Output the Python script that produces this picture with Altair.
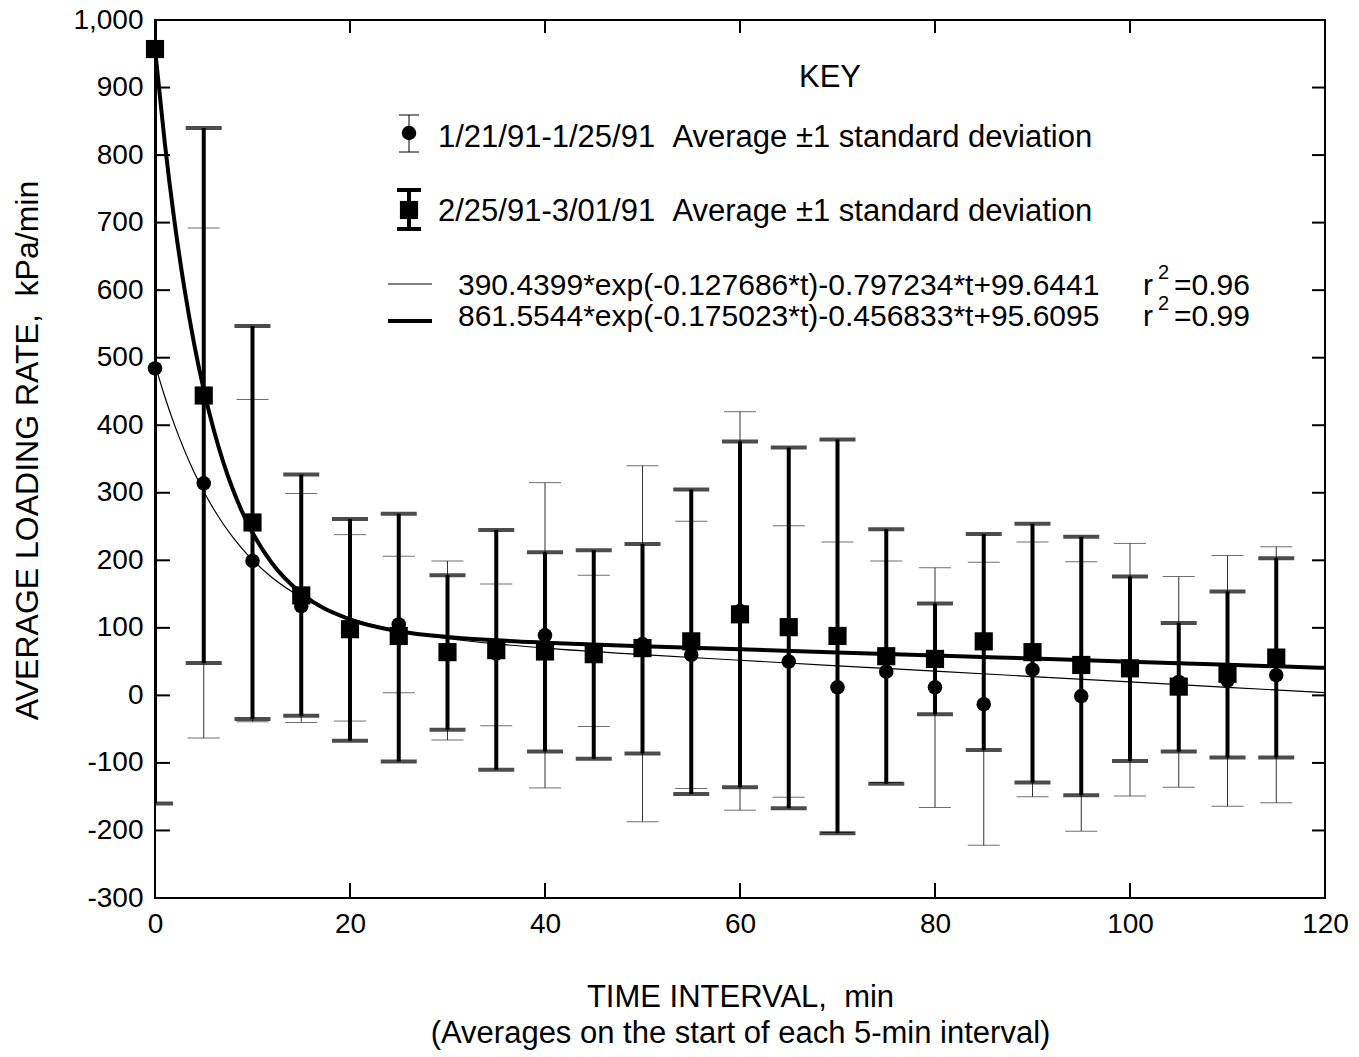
import altair as alt
import pandas as pd

# ---------------- data ----------------
t_min = [0, 5, 10, 15, 20, 25, 30, 35, 40, 45, 50, 55, 60, 65, 70, 75, 80, 85, 90, 95, 100, 105, 110, 115]

# 2/25/91-3/01/91 (squares, thick bars)
sq_mean = [957, 444, 256, 148, 98, 88, 64, 67, 65, 61, 70, 80, 120, 101, 88, 58, 54, 80, 64, 45, 40, 13, 32, 56]
sq_hi = [2074, 840, 547, 327, 261, 269, 178, 245, 212, 215, 224, 305, 376, 367, 379, 246, 136, 239, 254, 235, 176, 107, 154, 203]
sq_lo = [-160, 48, -35, -30, -67, -98, -51, -110, -83, -94, -86, -146, -136, -167, -204, -131, -28, -81, -129, -148, -97, -83, -92, -92]

# 1/21/91-1/25/91 (circles, thin bars)
ci_mean = [484, 314, 199, 132, 100, 105, 67, 62, 89, 66, 76, 60, 125, 50, 12, 35, 12, -13, 38, -1, 38, 20, 22, 30]
ci_hi = [None, 692, 438, 299, 238, 206, 199, 165, 315, 178, 340, 258, 420, 251, 227, 199, 189, 197, 227, 198, 225, 176, 207, 220]
ci_lo = [None, -63, -39, -40, -38, 4, -66, -45, -137, -46, -187, -138, -170, -151, -203, -129, -166, -222, -150, -201, -149, -136, -164, -159]

# fitted curves as drawn
curve_t = [0, 1, 2, 3, 4, 5, 6, 7, 8, 9, 10, 12, 15, 20, 25, 30, 35, 40, 50, 60, 70, 80, 90, 100, 110, 120]
thin_curve = [490.1, 442.5, 400.5, 363.5, 330.8, 301.9, 276.3, 253.8, 233.8, 216.2, 200.6, 174.5, 145.2,
              114.1, 95.7, 84.2, 76.2, 70.1, 60.4, 52.0, 43.8, 35.9, 27.9, 19.9, 12.0, 4.0]
thick_curve = [957.2, 818.4, 701.8, 603.9, 521.6, 452.5, 394.4, 345.5, 304.4, 269.8, 240.8, 195.6, 151.1,
               112.5, 95.0, 86.4, 81.5, 78.1, 72.9, 68.2, 63.6, 59.1, 54.5, 49.9, 45.4, 40.8]

x_ticks = [0, 20, 40, 60, 80, 100, 120]
y_ticks = [-300, -200, -100, 0, 100, 200, 300, 400, 500, 600, 700, 800, 900, 1000]

# ---------------- layout ----------------
W, H = 1170, 878
FONT = "Liberation Sans"
SP2 = " \u00a0"  # double space that survives SVG whitespace collapsing

xs = alt.Scale(domain=[0, 120], nice=False, zero=False)
ys = alt.Scale(domain=[-300, 1000], nice=False, zero=False)

x_axis = alt.Axis(values=x_ticks, ticks=False, domain=False, grid=False, labelFlush=False,
                  labelFontSize=28, labelPadding=12, labelColor="black", labelFont=FONT,
                  title=["TIME INTERVAL," + SP2 + "min", "(Averages on the start of each 5-min interval)"],
                  titleFontSize=31, titleFontWeight="normal", titleFont=FONT, titleColor="black",
                  titleX=585, titleY=84, titleAlign="center", titleBaseline="top", titleLineHeight=36)
y_axis = alt.Axis(values=y_ticks, ticks=False, domain=False, grid=False, labelFlush=False,
                  labelFontSize=28, labelPadding=12, labelColor="black", labelFont=FONT,
                  labelExpr="datum.value < 0 ? '-' + format(-datum.value, ',') : format(datum.value, ',')",
                  title="AVERAGE LOADING RATE," + SP2 + "kPa/min",
                  titleFontSize=32, titleFontWeight="normal", titleFont=FONT, titleColor="black",
                  titleX=-128, titleY=430, titleAngle=270, titleAlign="center", titleBaseline="middle")


def X(field):
    return alt.X(field, type="quantitative", scale=xs, axis=x_axis)


def Y(field):
    return alt.Y(field, type="quantitative", scale=ys, axis=y_axis)


pts = pd.DataFrame({"t": t_min, "sq": sq_mean, "sq_hi": sq_hi, "sq_lo": sq_lo,
                    "ci": ci_mean, "ci_hi": ci_hi, "ci_lo": ci_lo})
curves = pd.DataFrame({"t": curve_t, "thin": thin_curve, "thick": thick_curve})
xt = pd.DataFrame({"t": x_ticks})
yt = pd.DataFrame({"v": y_ticks})

layers = []

# inward ticks on all four sides
layers.append(alt.Chart(yt).mark_rule(color="black", strokeWidth=2).encode(
    y=Y("v"), x=alt.value(0), x2=alt.value(15)))
layers.append(alt.Chart(yt).mark_rule(color="black", strokeWidth=2).encode(
    y=Y("v"), x=alt.value(W - 13), x2=alt.value(W)))
layers.append(alt.Chart(xt).mark_rule(color="black", strokeWidth=2).encode(
    x=X("t"), y=alt.value(H - 15), y2=alt.value(H)))
layers.append(alt.Chart(xt).mark_rule(color="black", strokeWidth=2).encode(
    x=X("t"), y=alt.value(0), y2=alt.value(13)))

# thin series: error bars, curve, circles
ci_df = pts.dropna(subset=["ci_hi"])
layers.append(alt.Chart(ci_df).mark_rule(color="#333333", strokeWidth=1, clip=True).encode(
    x=X("t"), y=Y("ci_lo"), y2="ci_hi"))
layers.append(alt.Chart(ci_df).mark_tick(color="#333333", orient="horizontal", size=32, thickness=1, clip=True).encode(
    x=X("t"), y=Y("ci_hi")))
layers.append(alt.Chart(ci_df).mark_tick(color="#333333", orient="horizontal", size=32, thickness=1, clip=True).encode(
    x=X("t"), y=Y("ci_lo")))
layers.append(alt.Chart(curves).mark_line(color="black", strokeWidth=1.2, interpolate="monotone", clip=True).encode(
    x=X("t"), y=Y("thin")))

# thick series
layers.append(alt.Chart(pts).mark_rule(color="black", strokeWidth=4, clip=True).encode(
    x=X("t"), y=Y("sq_lo"), y2="sq_hi"))
layers.append(alt.Chart(pts).mark_tick(color="black", orient="horizontal", size=36, thickness=4, clip=True).encode(
    x=X("t"), y=Y("sq_hi")))
layers.append(alt.Chart(pts).mark_tick(color="black", orient="horizontal", size=36, thickness=4, clip=True).encode(
    x=X("t"), y=Y("sq_lo")))
layers.append(alt.Chart(curves).mark_line(color="black", strokeWidth=4, interpolate="monotone", clip=True).encode(
    x=X("t"), y=Y("thick")))

layers.append(alt.Chart(pts).mark_point(shape="circle", filled=True, color="black", opacity=1, size=210).encode(
    x=X("t"), y=Y("ci")))
layers.append(alt.Chart(pts).mark_point(shape="square", filled=True, color="black", opacity=1, size=330).encode(
    x=X("t"), y=Y("sq")))

# ---------------- key (pixel placed) ----------------
one = pd.DataFrame({"a": [0]})


def txt(s, x, y, size=30, align="left"):
    return alt.Chart(one).mark_text(text=s, font=FONT, fontSize=size, align=align, baseline="middle",
                                    color="black").encode(x=alt.value(x), y=alt.value(y))


def hline(x1, x2, y, w):
    return alt.Chart(one).mark_rule(color="black", strokeWidth=w).encode(
        x=alt.value(x1), x2=alt.value(x2), y=alt.value(y))


def vline(x, y1, y2, w):
    return alt.Chart(one).mark_rule(color="black", strokeWidth=w).encode(
        x=alt.value(x), y=alt.value(y1), y2=alt.value(y2))


layers.append(txt("KEY", 675, 58, size=31, align="center"))
# row 1
layers.append(vline(254, 95, 132, 1))
layers.append(hline(244, 264, 95, 1))
layers.append(hline(244, 264, 132, 1))
layers.append(alt.Chart(one).mark_point(shape="circle", filled=True, color="black", opacity=1, size=210).encode(
    x=alt.value(254), y=alt.value(113)))
layers.append(txt("1/21/91-1/25/91" + SP2 + "Average \u00b11 standard deviation", 283, 118, size=31))
# row 2
layers.append(vline(254, 170, 209, 4))
layers.append(hline(242, 266, 170, 4))
layers.append(hline(242, 266, 209, 4))
layers.append(alt.Chart(one).mark_point(shape="square", filled=True, color="black", opacity=1, size=330).encode(
    x=alt.value(254), y=alt.value(190)))
layers.append(txt("2/25/91-3/01/91" + SP2 + "Average \u00b11 standard deviation", 283, 192, size=31))
# row 3
layers.append(hline(233, 277, 264, 1.2))
layers.append(txt("390.4399*exp(-0.127686*t)-0.797234*t+99.6441", 303, 266, size=30))
layers.append(txt("r", 988, 266))
layers.append(txt("2", 1003, 253, size=20))
layers.append(txt("=0.96", 1019, 266))
# row 4
layers.append(hline(233, 277, 301, 4))
layers.append(txt("861.5544*exp(-0.175023*t)-0.456833*t+95.6095", 303, 297, size=30))
layers.append(txt("r", 988, 297))
layers.append(txt("2", 1003, 284, size=20))
layers.append(txt("=0.99", 1019, 297))

chart = alt.layer(*layers).properties(
    width=W, height=H,
    autosize=alt.AutoSizeParams(type="none"),
    padding={"left": 155, "top": 20, "right": 34, "bottom": 159},
    background="white",
).configure_view(stroke="black", strokeWidth=2)

chart.save("out.html", embed_options={"renderer": "svg", "actions": False})
